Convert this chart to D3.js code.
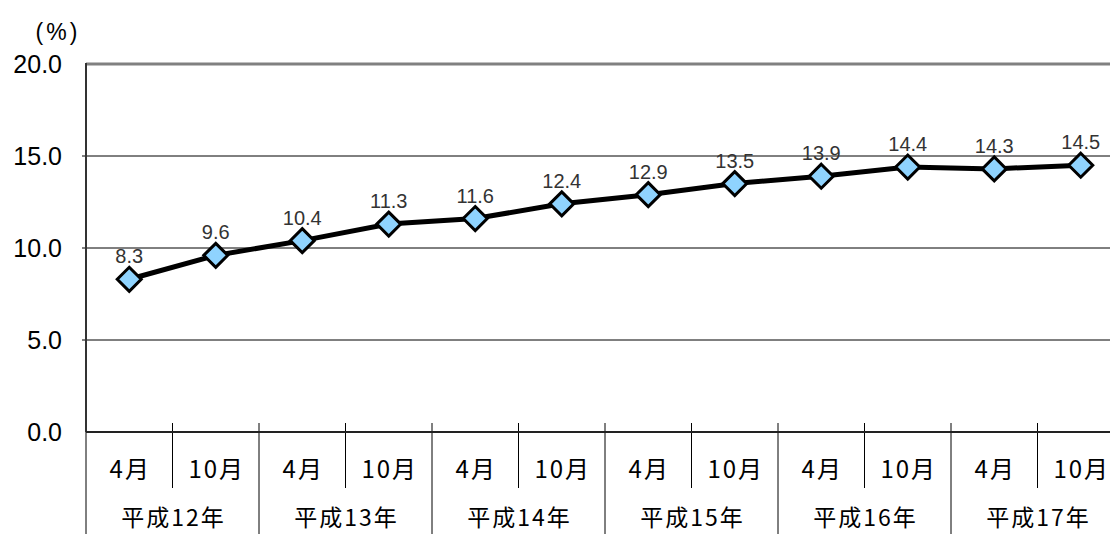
<!DOCTYPE html>
<html>
<head>
<meta charset="utf-8">
<script src="https://cdn.jsdelivr.net/npm/d3@7"></script>
<style>
  body { margin: 0; background: #fff; }
  svg { display: block; font-family: "Liberation Sans", Arial, sans-serif; }
  .cjk { font-family: "Noto Sans CJK JP", sans-serif; letter-spacing: 2px; }
</style>
</head>
<body>
<figure id="chart" style="margin:0"></figure>
<script>
// chart data
const months = ["4月", "10月", "4月", "10月", "4月", "10月", "4月", "10月", "4月", "10月", "4月", "10月"];
const years = ["平成12年", "平成13年", "平成14年", "平成15年", "平成16年", "平成17年"];
const rates = [8.3, 9.6, 10.4, 11.3, 11.6, 12.4, 12.9, 13.5, 13.9, 14.4, 14.3, 14.5];
const yTicks = [0, 5, 10, 15, 20];

const width = 1110, height = 534;
const plotLeft = 86, plotTop = 64, plotBottom = 432;
const band = 86.5;

const svg = d3.select("#chart").append("svg")
  .attr("width", width)
  .attr("height", height);

const keys = rates.map((d, i) => i);

// x scale over the 12 half-year slots
const x = d3.scaleBand()
  .domain(keys)
  .range([plotLeft, plotLeft + band * keys.length]);

const y = d3.scaleLinear()
  .domain([0, 20])
  .range([plotBottom, plotTop]);

// horizontal gridlines
svg.append("g")
  .selectAll("line")
  .data(yTicks.filter(t => t > 0 && t < 20))
  .join("line")
  .attr("x1", plotLeft - 4)
  .attr("x2", width)
  .attr("y1", d => y(d))
  .attr("y2", d => y(d))
  .attr("stroke", "#000")
  .attr("stroke-width", 1);

// top border of plot
svg.append("line")
  .attr("x1", plotLeft).attr("x2", width)
  .attr("y1", y(20)).attr("y2", y(20))
  .attr("stroke", "#808080").attr("stroke-width", 3);

// y axis labels
svg.append("g")
  .selectAll("text")
  .data(yTicks)
  .join("text")
  .attr("x", 62)
  .attr("y", d => y(d))
  .attr("dy", "0.36em")
  .attr("text-anchor", "end")
  .attr("font-size", 25)
  .attr("fill", "#000")
  .text(d => d.toFixed(1));

svg.append("text")
  .attr("x", 58)
  .attr("y", 40)
  .attr("text-anchor", "middle")
  .attr("font-size", 23)
  .attr("letter-spacing", 3)
  .text("(%)");

// left axis
svg.append("line")
  .attr("x1", plotLeft).attr("x2", plotLeft)
  .attr("y1", y(20) - 1).attr("y2", plotBottom)
  .attr("stroke", "#333").attr("stroke-width", 2);

// category dividers: month ticks and year ticks
const dividers = d3.range(keys.length + 1);
svg.append("g")
  .selectAll("line")
  .data(dividers)
  .join("line")
  .attr("x1", d => plotLeft + d * band)
  .attr("x2", d => plotLeft + d * band)
  .attr("y1", d => d === 0 ? plotBottom : plotBottom - 9)
  .attr("y2", d => d % 2 === 0 ? height : 488)
  .attr("stroke", "#000")
  .attr("stroke-width", 1);

// bottom axis
svg.append("line")
  .attr("x1", plotLeft).attr("x2", width)
  .attr("y1", plotBottom).attr("y2", plotBottom)
  .attr("stroke", "#222").attr("stroke-width", 2);

// month labels
svg.append("g")
  .selectAll("text")
  .data(months)
  .join("text")
  .attr("class", "cjk")
  .attr("x", (d, i) => x(i) + x.bandwidth() / 2 + 1)
  .attr("y", 469)
  .attr("dy", "0.36em")
  .attr("text-anchor", "middle")
  .attr("font-size", 24)
  .text(d => d);

// year labels
svg.append("g")
  .selectAll("text")
  .data(years)
  .join("text")
  .attr("class", "cjk")
  .attr("x", (d, i) => x(i * 2) + x.bandwidth() + 1)
  .attr("y", 518)
  .attr("dy", "0.36em")
  .attr("text-anchor", "middle")
  .attr("font-size", 23)
  .text(d => d);

// line
const line = d3.line()
  .x((d, i) => x(i) + x.bandwidth() / 2)
  .y(d => y(d));
svg.append("path")
  .datum(rates)
  .attr("d", line)
  .attr("fill", "none")
  .attr("stroke", "#000")
  .attr("stroke-width", 5);

// diamond markers
svg.append("g")
  .selectAll("path")
  .data(rates)
  .join("path")
  .attr("transform", (d, i) => `translate(${x(i) + x.bandwidth() / 2},${y(d)})`)
  .attr("d", "M0,-12L12,0L0,12L-12,0Z")
  .attr("fill", "#8fd3fe")
  .attr("stroke", "#000")
  .attr("stroke-width", 3)
  .attr("stroke-linejoin", "miter");

// value labels
svg.append("g")
  .selectAll("text")
  .data(rates)
  .join("text")
  .attr("x", (d, i) => x(i) + x.bandwidth() / 2)
  .attr("y", d => y(d) - 16)
  .attr("text-anchor", "middle")
  .attr("font-size", 20)
  .attr("fill", "#333")
  .text(d => d.toFixed(1));
</script>
</body>
</html>
